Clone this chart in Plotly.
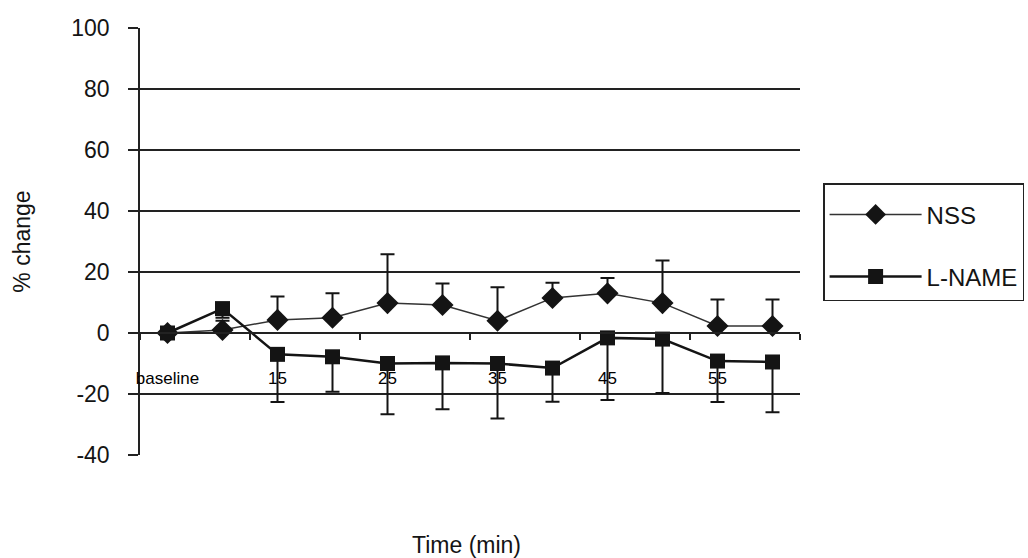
import plotly.graph_objects as go

categories = ["baseline", "10", "15", "20", "25", "30", "35", "40", "45", "50", "55", "60"]
nss_mean = [0, 1, 4.3, 5, 9.8, 9.2, 4, 11.5, 13, 9.8, 2.3, 2.3]
nss_err_up = [0, 3, 7.7, 8, 16, 7, 11, 5, 5, 14, 8.7, 8.7]
lname_mean = [0, 8, -7, -7.8, -10, -9.8, -10, -11.5, -1.6, -2, -9.2, -9.5]
lname_err_down = [0, 3, 15.6, 11.5, 16.6, 15.2, 18, 11, 20.4, 17.7, 13.4, 16.5]
y_ticks = [-40, -20, 0, 20, 40, 60, 80, 100]
y_tick_text = ["-40", "-20", "0", "20", "40", "60", "80", "100"]

FONT = "Liberation Sans, Arial, sans-serif"
INK = "#141414"

fig = go.Figure()

fig.add_trace(go.Scatter(
    x=categories, y=nss_mean, name="NSS", mode="lines+markers",
    line=dict(color="#333333", width=1.5),
    marker=dict(symbol="diamond", size=17, color=INK),
    error_y=dict(type="data", symmetric=False, array=nss_err_up,
                 arrayminus=[0] * len(nss_err_up), color=INK, thickness=2, width=7),
    legendgroup="a",
))
fig.add_trace(go.Scatter(
    x=categories, y=lname_mean, name="L-NAME", mode="lines+markers",
    line=dict(color=INK, width=2.5),
    marker=dict(symbol="square", size=15, color=INK),
    error_y=dict(type="data", symmetric=False, array=[0] * len(lname_err_down),
                 arrayminus=lname_err_down, color=INK, thickness=2, width=7),
    legendgroup="b",
))

fig.update_layout(
    width=1028, height=558,
    margin=dict(l=140, r=228, t=28, b=103, autoexpand=False),
    paper_bgcolor="white", plot_bgcolor="white",
    font=dict(family=FONT, color=INK, size=22),
    showlegend=True,
    legend=dict(
        x=1.035, y=0.637, xanchor="left", yanchor="top",
        bordercolor="#222222", borderwidth=1.5, bgcolor="white",
        font=dict(size=24, family=FONT, color=INK),
        tracegroupgap=28, itemwidth=92,
        title=dict(text=" ", font=dict(size=6)),
    ),
    xaxis=dict(
        type="category", categoryorder="array", categoryarray=categories,
        range=[-0.5, len(categories) - 0.5],
        anchor="free", position=40 / 140,
        showline=True, linecolor="#222222", linewidth=1.5,
        ticks="outside", ticklen=6, tickcolor="#222222", tickwidth=1.5,
        tickson="boundaries", tickmode="linear", tick0=0, dtick=2,
        tickangle=0,
        showgrid=False, zeroline=False,
        tickfont=dict(size=17, family=FONT, color="#000000"),
        ticklabelstandoff=30,
    ),
    yaxis=dict(
        range=[-40, 100], tickmode="array", tickvals=y_ticks, ticktext=y_tick_text,
        showline=True, linecolor="#222222", linewidth=1.5,
        ticks="outside", ticklen=10, tickcolor="#222222", tickwidth=1.5,
        showgrid=True, gridcolor="#222222", gridwidth=1.5,
        zeroline=False,
        tickfont=dict(size=23, family=FONT, color=INK),
        ticklabelstandoff=14,
        title=dict(text="% change", font=dict(size=23, family=FONT, color=INK), standoff=34),
        automargin=False,
    ),
    annotations=[dict(
        text="Time (min)", xref="paper", yref="paper", x=0.495, y=-0.211,
        xanchor="center", yanchor="middle", showarrow=False,
        font=dict(size=23, family=FONT, color=INK),
    )],
)

fig.write_html("out.html")
